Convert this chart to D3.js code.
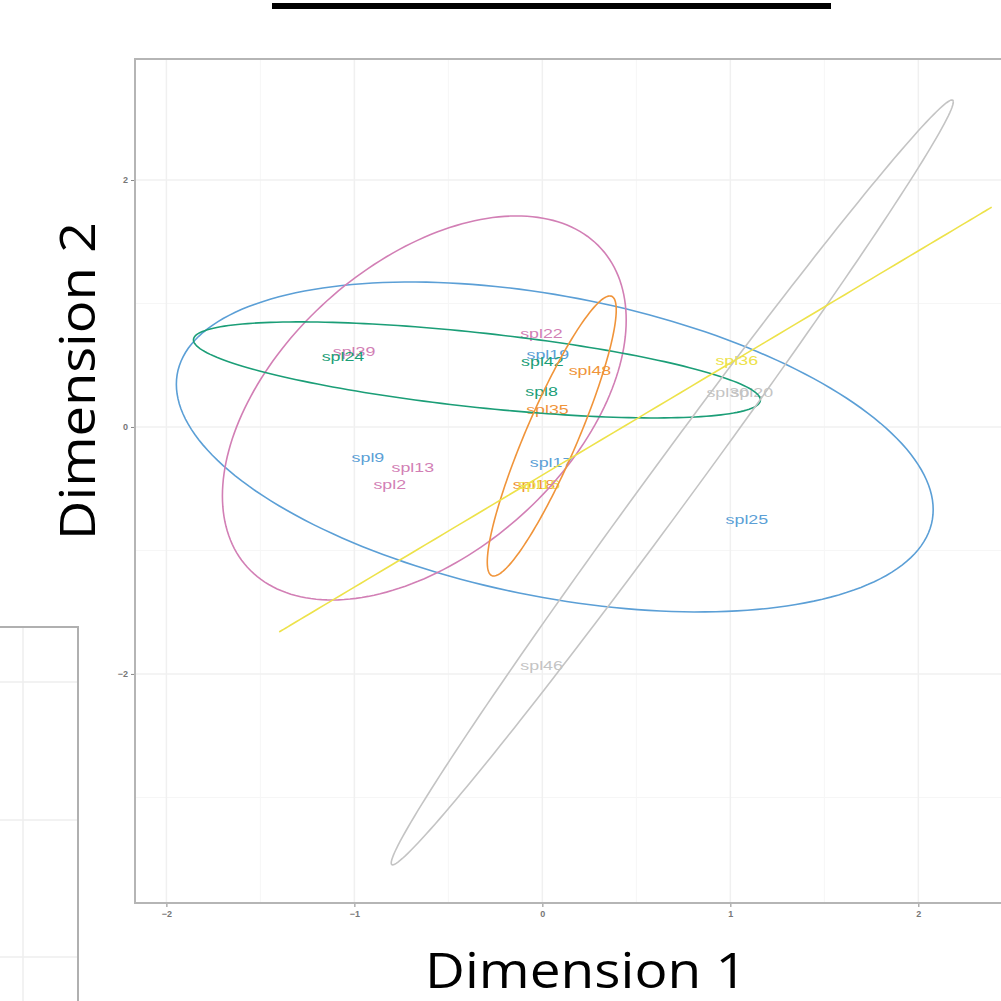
<!DOCTYPE html>
<html>
<head>
<meta charset="utf-8">
<script src="https://cdn.jsdelivr.net/npm/d3@7"></script>
<style>
  body { margin: 0; background: #fff; }
  svg { display: block; }
</style>
</head>
<body>
<svg id="viz" width="1001" height="1001"></svg>
<script>
// groups and their colours
var groupNames = ["pink", "blue", "green", "orange", "yellow", "gray"];
var groupColors = ["#d27fb5", "#5b9fd6", "#1b9e77", "#f0943a", "#ede24a", "#c4c4c4"];

// sample labels (MDS coordinates)
var labelNames = ["spl39", "spl24", "spl22", "spl19", "spl42", "spl48", "spl8", "spl35",
                  "spl9", "spl13", "spl2", "spl17", "spl18", "spl16", "spl25", "spl36",
                  "spl30", "spl20", "spl46"];
var labelX = [-1.002, -1.061, -0.005, 0.029, 0.0, 0.253, -0.004, 0.027,
              -0.928, -0.689, -0.812, 0.046, -0.045, -0.018, 1.088, 1.034,
              0.986, 1.114, -0.004];
var labelY = [0.615, 0.575, 0.761, 0.591, 0.534, 0.461, 0.291, 0.146,
              -0.243, -0.324, -0.462, -0.283, -0.462, -0.462, -0.745, 0.543,
              0.283, 0.283, -1.927];
var labelGroup = ["pink", "green", "pink", "blue", "green", "orange", "green", "orange",
                  "blue", "pink", "pink", "blue", "orange", "yellow", "blue", "yellow",
                  "gray", "gray", "gray"];

// confidence ellipses per group: centre, half x-range, half y-range, correlation
var ellGroup = ["blue", "pink", "green", "orange", "gray", "yellow"];
var ellCx  = [0.066, -0.628, -0.348, 0.05, 0.691, 0.495];
var ellCy  = [-0.162, 0.154, 0.462, -0.073, -0.449, 0.06];
var ellA   = [2.013, 1.074, 1.508, 0.343, 1.495, 1.895];
var ellB   = [1.336, 1.555, 0.389, 1.134, 3.097, 1.72];
var ellRho = [-0.38, 0.458, -0.625, 0.9, 0.995, 1.0];

var xTicks = [-2, -1, 0, 1, 2];
var yTicks = [-2, 0, 2];
var xMinor = [-1.5, -0.5, 0.5, 1.5, 2.5];
var yMinor = [-3, -1, 1];

var color = d3.scaleOrdinal().domain(groupNames).range(groupColors);

var svg = d3.select("#viz");

var pLeft = 135, pRight = 1033, pTop = 59, pBottom = 903;
var x = d3.scaleLinear().domain([-2.167, 2.61]).range([pLeft, pRight]);
var y = d3.scaleLinear().domain([-3.855, 2.98]).range([pBottom, pTop]);

// title underline (title itself is off the top of the slide)
svg.append("rect")
    .attr("x", 272).attr("y", 3)
    .attr("width", 559).attr("height", 6)
    .attr("fill", "#000");

// partial neighbouring panel in lower left
var side = svg.append("g");
[682, 820, 957].forEach(function(gy) {
    side.append("line").attr("x1", 0).attr("x2", 78).attr("y1", gy).attr("y2", gy)
        .attr("stroke", "#eeeeee").attr("stroke-width", 1.5);
});
side.append("line").attr("x1", 23).attr("x2", 23).attr("y1", 627).attr("y2", 1001)
    .attr("stroke", "#eeeeee").attr("stroke-width", 1.5);
side.append("rect")
    .attr("x", -5).attr("y", 627)
    .attr("width", 83).attr("height", 400)
    .attr("fill", "none").attr("stroke", "#b0b0b0").attr("stroke-width", 2);

var defs = svg.append("defs");
defs.append("clipPath").attr("id", "panel")
    .append("rect")
    .attr("x", pLeft).attr("y", pTop)
    .attr("width", pRight - pLeft).attr("height", pBottom - pTop);

var panel = svg.append("g").attr("clip-path", "url(#panel)");

// grid
panel.selectAll("line.xminor").data(xMinor).enter().append("line")
    .attr("x1", function(d) { return x(d); }).attr("x2", function(d) { return x(d); })
    .attr("y1", pTop).attr("y2", pBottom)
    .attr("stroke", "#f6f6f6").attr("stroke-width", 1);
panel.selectAll("line.yminor").data(yMinor).enter().append("line")
    .attr("y1", function(d) { return y(d); }).attr("y2", function(d) { return y(d); })
    .attr("x1", pLeft).attr("x2", pRight)
    .attr("stroke", "#f6f6f6").attr("stroke-width", 1);
panel.selectAll("line.xmajor").data(xTicks).enter().append("line")
    .attr("x1", function(d) { return x(d); }).attr("x2", function(d) { return x(d); })
    .attr("y1", pTop).attr("y2", pBottom)
    .attr("stroke", "#f0f0f0").attr("stroke-width", 1.5);
panel.selectAll("line.ymajor").data(yTicks).enter().append("line")
    .attr("y1", function(d) { return y(d); }).attr("y2", function(d) { return y(d); })
    .attr("x1", pLeft).attr("x2", pRight)
    .attr("stroke", "#f0f0f0").attr("stroke-width", 1.5);

// labels
panel.selectAll("text.lab")
    .data(labelNames)
    .enter()
    .append("text")
    .attr("class", "lab")
    .attr("transform", function(d, i) {
        return "translate(" + x(labelX[i]) + "," + y(labelY[i]) + ") scale(1.32,1)";
    })
    .attr("text-anchor", "middle")
    .attr("dy", "0.36em")
    .attr("font-family", "Liberation Sans, Arial, sans-serif")
    .attr("font-size", 13.5)
    .attr("fill", function(d, i) { return color(labelGroup[i]); })
    .text(function(d) { return d; });

// ellipses
function ellipsePoints(i) {
    var cosP = ellRho[i];
    var sinP = Math.sqrt(Math.max(0, 1 - cosP * cosP));
    return d3.range(0, 201).map(function(k) {
        var t = k / 200 * 2 * Math.PI;
        var px = ellCx[i] + ellA[i] * Math.cos(t);
        var py = ellCy[i] + ellB[i] * (Math.cos(t) * cosP + Math.sin(t) * sinP);
        return [px, py];
    });
}
var line = d3.line()
    .x(function(d) { return x(d[0]); })
    .y(function(d) { return y(d[1]); });

panel.selectAll("path.ell")
    .data(ellGroup)
    .enter()
    .append("path")
    .attr("class", "ell")
    .attr("d", function(d, i) { return line(ellipsePoints(i)); })
    .attr("fill", "none")
    .attr("stroke", function(d) { return color(d); })
    .attr("stroke-width", 1.6);

// border
svg.append("rect")
    .attr("x", pLeft).attr("y", pTop)
    .attr("width", pRight - pLeft).attr("height", pBottom - pTop)
    .attr("fill", "none").attr("stroke", "#b5b5b5").attr("stroke-width", 2);

// axes
var xAxis = svg.append("g")
    .attr("transform", "translate(0," + (pBottom + 1) + ")")
    .call(d3.axisBottom(x).tickValues(xTicks).tickSize(3).tickPadding(4).tickFormat(d3.format("d")));
var yAxis = svg.append("g")
    .attr("transform", "translate(" + (pLeft - 1) + ",0)")
    .call(d3.axisLeft(y).tickValues(yTicks).tickSize(3).tickPadding(3).tickFormat(d3.format("d")));
[xAxis, yAxis].forEach(function(a) {
    a.select(".domain").remove();
    a.selectAll("line").attr("stroke", "#888");
    a.selectAll("text")
        .attr("font-family", "Liberation Sans, Arial, sans-serif")
        .attr("font-size", 9)
        .attr("font-weight", "bold")
        .attr("fill", "#777");
});

// axis titles
svg.append("text")
    .attr("x", 586).attr("y", 988)
    .attr("text-anchor", "middle")
    .attr("font-family", "Open Sans, sans-serif")
    .attr("font-size", 49)
    .attr("textLength", 322)
    .attr("lengthAdjust", "spacingAndGlyphs")
    .attr("fill", "#000")
    .text("Dimension 1");

svg.append("text")
    .attr("transform", "translate(95,381) rotate(-90)")
    .attr("text-anchor", "middle")
    .attr("font-family", "Open Sans, sans-serif")
    .attr("font-size", 49)
    .attr("textLength", 318)
    .attr("lengthAdjust", "spacingAndGlyphs")
    .attr("fill", "#000")
    .text("Dimension 2");
</script>
</body>
</html>
